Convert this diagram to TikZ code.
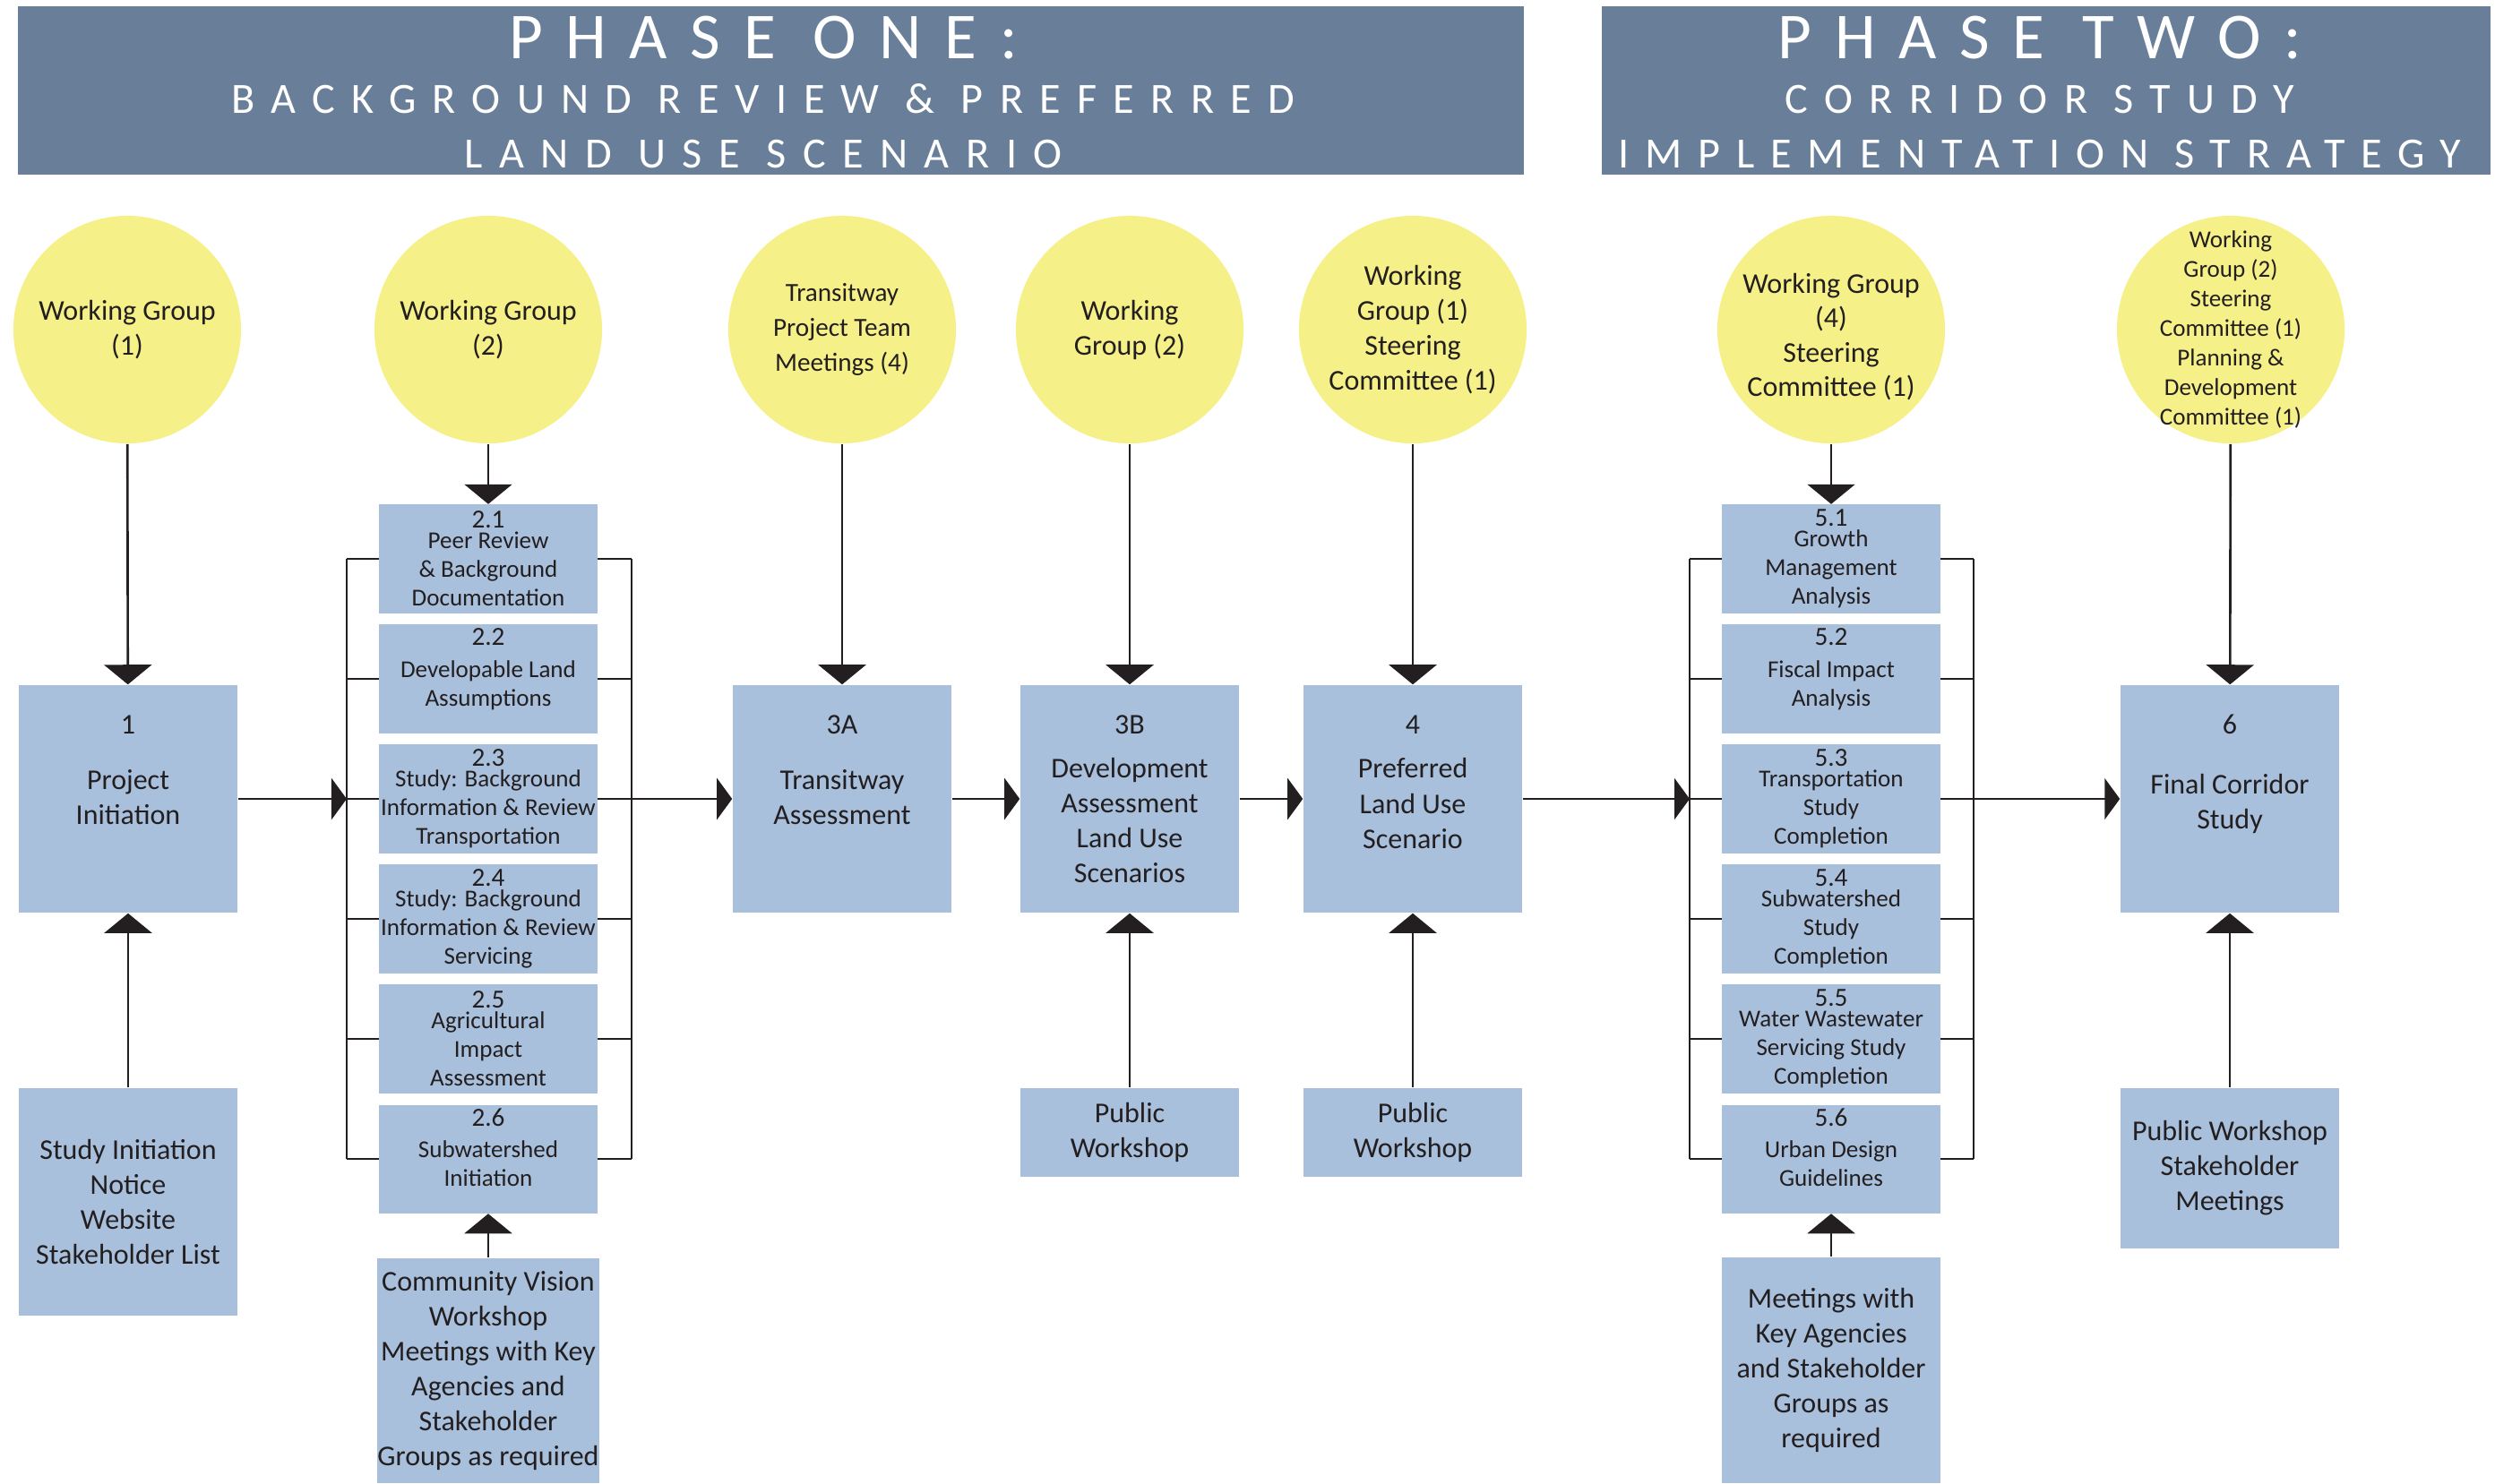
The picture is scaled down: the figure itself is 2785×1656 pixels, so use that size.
\documentclass[tikz,border=0pt]{standalone}
\usepackage{fontspec}
\setmainfont{Carlito}
\usetikzlibrary{arrows.meta}
\definecolor{bandblue}{RGB}{104,126,153}
\definecolor{meetyellow}{RGB}{245,240,135}
\definecolor{taskblue}{RGB}{169,192,221}
\definecolor{ink}{RGB}{35,31,32}
\newcommand{\txt}{\fontsize{9.1pt}{11.1pt}\selectfont}
\newcommand{\subtxt}{\fontsize{7.7pt}{9.1pt}\selectfont}
\newcommand{\subnum}{\fontsize{8.3pt}{9.1pt}\selectfont}
\tikzset{
  band/.style={fill=bandblue, minimum width=#1, minimum height=1.88cm, inner sep=0pt},
  bandhead/.style={text=white, inner sep=0pt, anchor=base, font=\fontsize{20.8pt}{24pt}\selectfont\addfontfeature{LetterSpace=35}},
  bandsub/.style={text=white, inner sep=0pt, anchor=base, font=\fontsize{13.7pt}{16pt}\selectfont\addfontfeature{LetterSpace=#1}},
  meet/.style={circle, fill=meetyellow, minimum size=2.54cm, inner sep=0pt, align=center, text=ink, font=\txt},
  task/.style={fill=taskblue, minimum width=2.44cm, minimum height=#1, inner sep=0pt, align=center, text=ink, font=\txt},
  subtask/.style={fill=taskblue, minimum width=2.43cm, minimum height=1.21cm, inner sep=0pt, align=center, text=ink, font=\subtxt},
  shorttask/.style={subtask, text depth=0.26cm},
  lbl/.style={inner sep=0pt, align=center, text=ink, font=\txt},
  link/.style={draw=ink, line width=0.75pt},
  flow/.style={link, -{Triangle[length=0.17cm, width=0.46cm]}},
  feed/.style={link, -{Triangle[length=0.22cm, width=0.53cm]}},
}
\begin{document}
\begin{tikzpicture}[x=0.01cm, y=-0.01cm]
\useasboundingbox (0,0) rectangle (2785,1656);

\node[band=16.8cm] (ph1) at (860,101) {};
\node[bandhead] (ph1a) at (852,65) {PHASE ONE:};
\node[bandsub=38] (ph1b) at (852,126) {BACKGROUND REVIEW \& PREFERRED};
\node[bandsub=38.5] (ph1c) at (852,187) {LAND USE SCENARIO};
\node[band=9.92cm] (ph2) at (2284,101) {};
\node[bandhead] (ph2a) at (2277,65) {PHASE TWO:};
\node[bandsub=38] (ph2b) at (2277,126) {CORRIDOR STUDY};
\node[bandsub=37] (ph2c) at (2277,187) {IMPLEMENTATION STRATEGY};

\node[meet] (c1) at (142,368) {Working Group\\(1)};
\node[meet] (c2) at (545,368) {Working Group\\(2)};
\node[meet, font=\fontsize{8.3pt}{11.1pt}\selectfont] (c3a) at (940,368) {Transitway\\Project Team\\Meetings (4)};
\node[meet] (c3b) at (1261,368) {Working\\Group (2)};
\node[meet] (c4) at (1577,368) {Working\\Group (1)\\Steering\\Committee (1)};
\node[meet, text height=1.53cm, font=\fontsize{9.1pt}{10.9pt}\selectfont] (c5) at (2044,368) {Working Group\\(4)\\Steering\\Committee (1)};
\node[meet, inner sep=-0.5cm, font=\fontsize{7.7pt}{9.4pt}\selectfont] (c6) at (2490,368) {Working\\Group (2)\\Steering\\Committee (1)\\Planning \&\\Development\\Committee (1)};

\node[task=2.54cm] (b1) at (143,892) {};
\node[lbl] (b1n) at ([yshift=-0.45cm]b1.north) {1};
\node[lbl] (b1t) at ([yshift=0.02cm]b1.center) {Project\\Initiation};
\node[task=2.54cm] (b3a) at (940,892) {};
\node[lbl] (b3an) at ([yshift=-0.45cm]b3a.north) {3A};
\node[lbl] (b3at) at ([yshift=0.02cm]b3a.center) {Transitway\\Assessment};
\node[task=2.54cm] (b3b) at (1261,892) {};
\node[lbl] (b3bn) at ([yshift=-0.45cm]b3b.north) {3B};
\node[lbl] (b3bt) at ([yshift=-0.24cm]b3b.center) {Development\\Assessment\\Land Use\\Scenarios};
\node[task=2.54cm] (b4) at (1577,892) {};
\node[lbl] (b4n) at ([yshift=-0.45cm]b4.north) {4};
\node[lbl] (b4t) at ([yshift=-0.05cm]b4.center) {Preferred\\Land Use\\Scenario};
\node[task=2.54cm] (b6) at (2489,892) {};
\node[lbl] (b6n) at ([yshift=-0.45cm]b6.north) {6};
\node[lbl] (b6t) at ([yshift=-0.05cm]b6.center) {Final Corridor\\Study};

\node[subtask] (s21) at (545,624) {{\subnum 2.1}\\[-2.6pt]Peer Review\\\& Background\\Documentation};
\node[shorttask] (s22) at (545,758) {{\subnum 2.2}\\[0.9pt]Developable Land\\Assumptions};
\node[subtask] (s23) at (545,892) {{\subnum 2.3}\\[-2.6pt]Study: Background\\Information \& Review\\Transportation};
\node[subtask] (s24) at (545,1026) {{\subnum 2.4}\\[-2.6pt]Study: Background\\Information \& Review\\Servicing};
\node[subtask] (s25) at (545,1160) {{\subnum 2.5}\\[-2.6pt]Agricultural\\Impact\\Assessment};
\node[shorttask] (s26) at (545,1294) {{\subnum 2.6}\\[0.9pt]Subwatershed\\Initiation};

\node[subtask] (s51) at (2044,624) {{\subnum 5.1}\\[-2.6pt]Growth\\Management\\Analysis};
\node[shorttask] (s52) at (2044,758) {{\subnum 5.2}\\[0.9pt]Fiscal Impact\\Analysis};
\node[subtask] (s53) at (2044,892) {{\subnum 5.3}\\[-2.6pt]Transportation\\Study\\Completion};
\node[subtask] (s54) at (2044,1026) {{\subnum 5.4}\\[-2.6pt]Subwatershed\\Study\\Completion};
\node[subtask] (s55) at (2044,1160) {{\subnum 5.5}\\[-2.6pt]Water Wastewater\\Servicing Study\\Completion};
\node[shorttask] (s56) at (2044,1294) {{\subnum 5.6}\\[0.9pt]Urban Design\\Guidelines};

\node[task=2.54cm] (n1) at (143,1342) {Study Initiation\\Notice\\Website\\Stakeholder List};
\node[task=2.51cm] (n2) at (545,1530.5) {Community Vision\\Workshop\\Meetings with Key\\Agencies and\\Stakeholder\\Groups as required};
\node[task=0.99cm] (n3b) at (1261,1264.5) {Public\\Workshop};
\node[task=0.99cm] (n4) at (1577,1264.5) {Public\\Workshop};
\node[task=2.52cm] (n5) at (2044,1530) {Meetings with\\Key Agencies\\and Stakeholder\\Groups as\\required};
\node[task=1.79cm] (n6) at (2489,1304.5) {Public Workshop\\Stakeholder\\Meetings};

\coordinate (l2) at (387,892);
\coordinate (r2) at (705,892);
\coordinate (l5) at (1886,892);
\coordinate (r5) at (2203,892);

\foreach \g in {2,5}{
  \draw[link] (s\g1.west -| l\g) -- (s\g6.west -| l\g);
  \draw[link] (s\g1.east -| r\g) -- (s\g6.east -| r\g);
  \foreach \k in {1,...,6}{
    \draw[link] (s\g\k.west) -- (s\g\k.west -| l\g);
    \draw[link] (s\g\k.east) -- (s\g\k.east -| r\g);
  }
}

\draw[feed] (c1) -- (b1);
\draw[feed] (c2) -- (s21);
\draw[feed] (c3a) -- (b3a);
\draw[feed] (c3b) -- (b3b);
\draw[feed] (c4) -- (b4);
\draw[feed] (c5) -- (s51);
\draw[feed] (c6) -- (b6);

\draw[feed] (n1) -- (b1);
\draw[feed] (n2) -- (s26);
\draw[feed] (n3b) -- (b3b);
\draw[feed] (n4) -- (b4);
\draw[feed] (n5) -- (s56);
\draw[feed] (n6) -- (b6);

\draw[flow] (b1) -- (l2);
\draw[flow] (r2) -- (b3a);
\draw[flow] (b3a) -- (b3b);
\draw[flow] (b3b) -- (b4);
\draw[flow] (b4) -- (l5);
\draw[flow] (r5) -- (b6);
\end{tikzpicture}
\end{document}
